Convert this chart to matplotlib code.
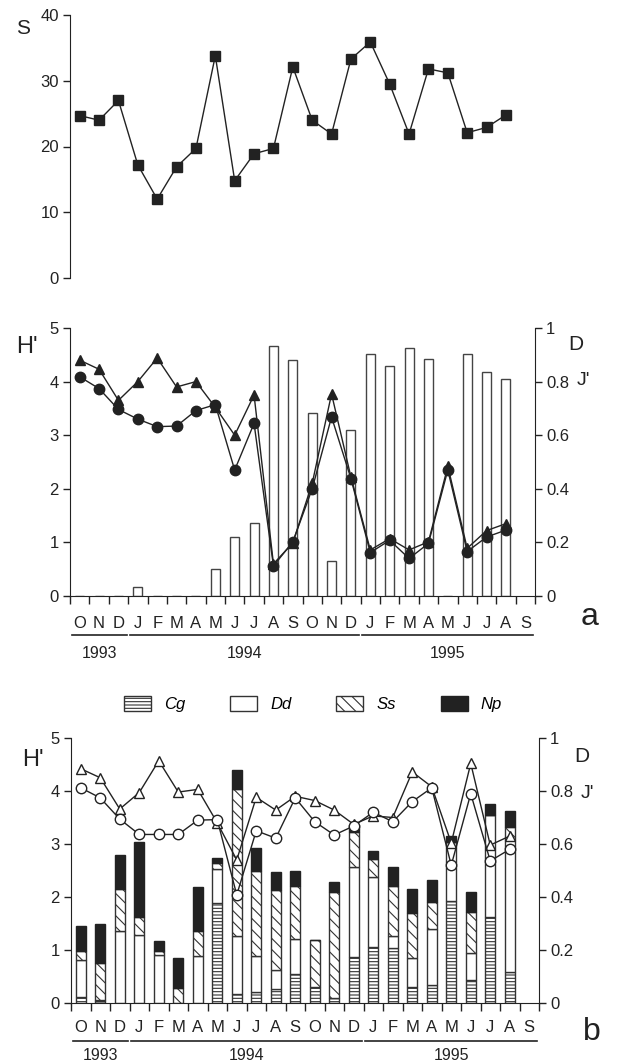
import numpy as np
import matplotlib
matplotlib.use('Agg')
import matplotlib.pyplot as plt
from matplotlib import transforms
from matplotlib.patches import Patch

plt.rcParams['font.family'] = ['Liberation Sans', 'DejaVu Sans']
plt.rcParams['hatch.linewidth'] = 0.8

nan = np.nan
months = ['O', 'N', 'D', 'J', 'F', 'M', 'A', 'M', 'J', 'J', 'A', 'S',
          'O', 'N', 'D', 'J', 'F', 'M', 'A', 'M', 'J', 'J', 'A', 'S']
years = [('1993', 0, 2), ('1994', 3, 14), ('1995', 15, 23)]

# top panel: number of species
S = [24.7, 24.0, 27.0, 17.2, 12.0, 16.9, 19.7, 33.8, 14.8, 18.9, 19.7, 32.1,
     24.0, 21.9, 33.3, 35.9, 29.5, 21.9, 31.8, 31.2, 22.1, 22.9, 24.8, nan]

# panel a: H' (triangles), J' (circles), D (bars)
H_a = [4.4, 4.23, 3.65, 4.0, 4.44, 3.9, 4.0, 3.52, 3.0, 3.75, 0.6, 0.99,
       2.1, 3.77, 2.22, 0.86, 1.07, 0.86, 1.01, 2.42, 0.89, 1.22, 1.35, nan]
J_a = [4.09, 3.87, 3.48, 3.3, 3.16, 3.17, 3.46, 3.57, 2.35, 3.22, 0.56, 1.01,
       2.0, 3.34, 2.19, 0.81, 1.04, 0.7, 0.98, 2.35, 0.83, 1.1, 1.23, nan]
D_a = [0, 0, 0, 0.035, 0, 0, 0, 0.102, 0.221, 0.273, 0.932, 0.882,
       0.683, 0.132, 0.619, 0.904, 0.858, 0.925, 0.883, 0, 0.904, 0.836, 0.811, nan]

# panel b: stacked contributions (cumulative tops) and H', J'
Cg_top = [0.11, 0.04, 0, 0, 0, 0, 0, 1.88, 0.17, 0.2, 0.27, 0.55,
          0.3, 0.1, 0.86, 1.05, 1.03, 0.3, 0.34, 1.92, 0.43, 1.63, 0.59, nan]
Dd_top = [0.81, 0.05, 1.35, 1.28, 0.9, 0, 0.89, 2.52, 1.26, 0.89, 0.63, 1.2,
          0.3, 0.1, 2.56, 2.38, 1.26, 0.84, 1.39, 3.03, 0.94, 3.55, 3.08, nan]
Ss_top = [0.99, 0.75, 2.16, 1.63, 0.98, 0.28, 1.36, 2.64, 4.04, 2.5, 2.13, 2.2,
          1.19, 2.1, 3.22, 2.71, 2.2, 1.7, 1.91, 3.03, 1.72, 3.55, 3.33, nan]
Np_top = [1.45, 1.5, 2.79, 3.03, 1.17, 0.84, 2.19, 2.74, 4.39, 2.93, 2.47, 2.5,
          1.19, 2.28, 3.36, 2.86, 2.57, 2.15, 2.32, 3.15, 2.1, 3.75, 3.62, nan]
H_b = [4.42, 4.25, 3.66, 3.97, 4.57, 3.98, 4.03, 3.4, 2.7, 3.88, 3.64, 3.9,
       3.82, 3.64, 3.37, 3.53, 3.5, 4.36, 4.08, 3.02, 4.52, 2.98, 3.15, nan]
J_b = [4.06, 3.87, 3.47, 3.18, 3.18, 3.18, 3.45, 3.46, 2.04, 3.25, 3.11, 3.87,
       3.42, 3.17, 3.34, 3.6, 3.42, 3.8, 4.06, 2.6, 3.95, 2.68, 2.9, nan]

W, H = 634, 1064
fig = plt.figure(figsize=(W / 100, H / 100), dpi=100)
ink = '#222222'
tick_fs = 12


def add_px_axes(left, top, right, bottom):
    return fig.add_axes([left / W, 1 - bottom / H, (right - left) / W, (bottom - top) / H])


x = np.arange(len(months))

# ---- top panel
ax0 = add_px_axes(70, 15, 535, 278)
ax0.plot(x, S, color=ink, lw=1.0, marker='s', ms=6.5, mfc=ink, mec=ink, clip_on=False)
ax0.set_xlim(-0.5, 23.5)
ax0.set_ylim(0, 40)
ax0.set_yticks([0, 10, 20, 30, 40])
for sp in ['top', 'right', 'bottom']:
    ax0.spines[sp].set_visible(False)
ax0.spines['left'].set_color(ink)
ax0.tick_params(axis='y', length=5, width=1, labelsize=tick_fs, colors=ink, pad=3)
ax0.set_xticks([])
fig.text(16 / W, 1 - 29 / H, 'S', fontsize=15, ha='left', va='center', color=ink)


def month_axis(ax, axis_h, off_m, off_l, off_y):
    tr = transforms.blended_transform_factory(ax.transData, ax.transAxes)
    ax.set_xticks(np.arange(-0.5, 24, 1))
    ax.set_xticklabels([])
    ax.tick_params(axis='x', length=6, width=1, colors=ink)
    for i, m in enumerate(months):
        ax.text(i, -off_m / axis_h, m, transform=tr, ha='center', va='center',
                fontsize=tick_fs, color=ink)
    for yr, i0, i1 in years:
        ax.plot([i0 - 0.42, i1 + 0.42], [-off_l / axis_h] * 2, transform=tr,
                color=ink, lw=1.2, clip_on=False)
        ax.text((i0 + i1) / 2, -off_y / axis_h, yr, transform=tr, ha='center',
                va='center', fontsize=11.5, color=ink)


def style_axes(ax, ax2):
    ax.set_xlim(-0.5, 23.5)
    ax.set_ylim(0, 5)
    ax.set_yticks([0, 1, 2, 3, 4, 5])
    ax.tick_params(axis='y', length=5, width=1, labelsize=tick_fs, colors=ink, pad=3)
    ax.spines['top'].set_visible(False)
    ax.spines['right'].set_visible(False)
    for sp in ['left', 'bottom']:
        ax.spines[sp].set_color(ink)
    ax2.set_ylim(0, 1)
    ax2.set_yticks([0, 0.2, 0.4, 0.6, 0.8, 1])
    ax2.set_yticklabels(['0', '0.2', '0.4', '0.6', '0.8', '1'])
    ax2.tick_params(axis='y', length=5, width=1, labelsize=tick_fs, colors=ink, pad=3)
    for sp in ['top', 'left', 'bottom']:
        ax2.spines[sp].set_visible(False)
    ax2.spines['right'].set_color(ink)


# ---- panel a
ax1 = add_px_axes(70, 328, 535, 596)
ax1b = ax1.twinx()
ax1b.bar(x, D_a, width=0.47, facecolor='white', edgecolor='#444444', lw=1.0)
ax1.set_zorder(ax1b.get_zorder() + 1)
ax1.patch.set_visible(False)
ax1.plot(x, H_a, color=ink, lw=1.0, marker='^', ms=7.5, mfc=ink, mec=ink, clip_on=False)
ax1.plot(x, J_a, color=ink, lw=1.0, marker='o', ms=7.5, mfc=ink, mec=ink, clip_on=False)
style_axes(ax1, ax1b)
month_axis(ax1, 268, 27, 39, 58)
fig.text(16 / W, 1 - 347 / H, "H'", fontsize=17, ha='left', va='center', color=ink)
fig.text(568 / W, 1 - 345 / H, 'D', fontsize=15, ha='left', va='center', color=ink)
fig.text(577 / W, 1 - 381 / H, "J'", fontsize=14, ha='left', va='center', color=ink)
fig.text(590 / W, 1 - 617 / H, 'a', fontsize=23, ha='center', va='center', color=ink)

# ---- legend
handles = [
    Patch(facecolor='white', edgecolor='#333333', hatch='-----', label='Cg'),
    Patch(facecolor='white', edgecolor='#333333', label='Dd'),
    Patch(facecolor='white', edgecolor='#333333', hatch='\\\\\\', label='Ss'),
    Patch(facecolor=ink, edgecolor=ink, label='Np'),
]
fig.legend(handles=handles, loc='center', bbox_to_anchor=(313 / W, 1 - 704 / H), ncol=4,
           frameon=False, prop={'style': 'italic', 'size': 12}, handlelength=1.6,
           handleheight=1.0, handletextpad=0.8, columnspacing=2.7)

# ---- panel b
ax3 = add_px_axes(71, 738, 539, 1003)
ax3b = ax3.twinx()
Cg = np.array(Cg_top)
Dd = np.array(Dd_top) - Cg
Ss = np.array(Ss_top) - np.array(Dd_top)
Np = np.array(Np_top) - np.array(Ss_top)
bw = 0.5
ax3.bar(x, Cg, width=bw, facecolor='white', edgecolor='#333333', hatch='-----', lw=1.0)
ax3.bar(x, Dd, width=bw, bottom=Cg, facecolor='white', edgecolor='#333333', lw=1.0)
ax3.bar(x, Ss, width=bw, bottom=np.array(Dd_top), facecolor='white', edgecolor='#333333',
        hatch='\\\\\\', lw=1.0)
ax3.bar(x, Np, width=bw, bottom=np.array(Ss_top), facecolor=ink, edgecolor=ink, lw=1.0)
ax3.plot(x, H_b, color=ink, lw=1.0, marker='^', ms=7.5, mfc='white', mec=ink, zorder=5,
         clip_on=False)
ax3.plot(x, J_b, color=ink, lw=1.0, marker='o', ms=7.5, mfc='white', mec=ink, zorder=5,
         clip_on=False)
ax3.set_zorder(ax3b.get_zorder() + 1)
ax3.patch.set_visible(False)
style_axes(ax3, ax3b)
month_axis(ax3, 265, 24, 38, 53)
fig.text(22 / W, 1 - 760 / H, "H'", fontsize=17, ha='left', va='center', color=ink)
fig.text(574 / W, 1 - 757 / H, 'D', fontsize=15, ha='left', va='center', color=ink)
fig.text(581 / W, 1 - 793 / H, "J'", fontsize=14, ha='left', va='center', color=ink)
fig.text(592 / W, 1 - 1032 / H, 'b', fontsize=23, ha='center', va='center', color=ink)

fig.savefig('out.png', dpi=100)
